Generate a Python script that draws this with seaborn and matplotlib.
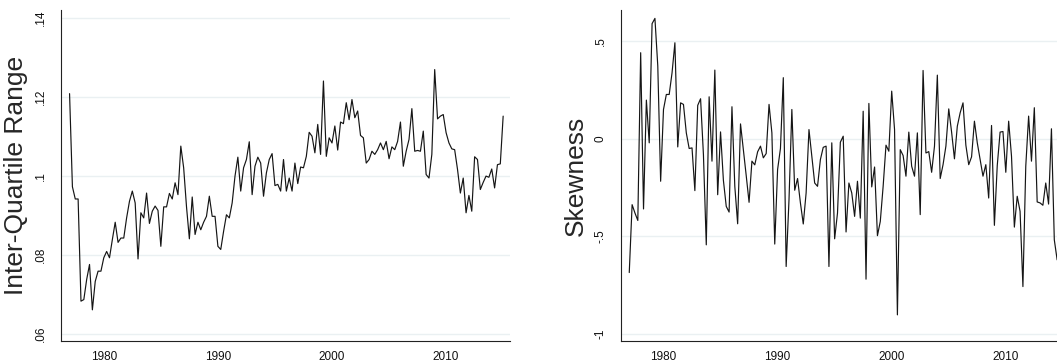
import numpy as np
import pandas as pd
import matplotlib
matplotlib.use("Agg")
import matplotlib.pyplot as plt
import seaborn as sns

# ---- data (quarterly, starting 1977q1) ----
start_year = 1977.0
iqr = [0.1208, 0.0972, 0.0941, 0.0941, 0.0682, 0.0686, 0.0737, 0.0775, 0.0660, 0.0732,
       0.0758, 0.0758, 0.0792, 0.0808, 0.0792, 0.0838, 0.0882, 0.0831, 0.0842, 0.0842,
       0.0893, 0.0935, 0.0961, 0.0931, 0.0789, 0.0906, 0.0893, 0.0956, 0.0879, 0.0910,
       0.0923, 0.0912, 0.0821, 0.0921, 0.0921, 0.0955, 0.0941, 0.0982, 0.0952, 0.1075,
       0.1020, 0.0921, 0.0840, 0.0946, 0.0851, 0.0882, 0.0863, 0.0882, 0.0897, 0.0948,
       0.0897, 0.0897, 0.0821, 0.0813, 0.0859, 0.0901, 0.0893, 0.0931, 0.0999, 0.1047,
       0.0961, 0.1020, 0.1041, 0.1086, 0.0952, 0.1024, 0.1047, 0.1032, 0.0948, 0.1007,
       0.1041, 0.1056, 0.0975, 0.0978, 0.0961, 0.1041, 0.0961, 0.0994, 0.0961, 0.1032,
       0.0980, 0.1022, 0.1020, 0.1049, 0.1110, 0.1100, 0.1058, 0.1130, 0.1054, 0.1240,
       0.1049, 0.1096, 0.1083, 0.1126, 0.1065, 0.1136, 0.1132, 0.1185, 0.1142, 0.1193,
       0.1147, 0.1164, 0.1102, 0.1096, 0.1032, 0.1041, 0.1062, 0.1054, 0.1066, 0.1083,
       0.1066, 0.1087, 0.1043, 0.1073, 0.1066, 0.1087, 0.1136, 0.1024, 0.1062, 0.1092,
       0.1170, 0.1062, 0.1064, 0.1062, 0.1113, 0.1003, 0.0994, 0.1054, 0.1269, 0.1144,
       0.1151, 0.1155, 0.1109, 0.1083, 0.1068, 0.1066, 0.1016, 0.0956, 0.0994, 0.0906,
       0.0950, 0.0910, 0.1048, 0.1041, 0.0965, 0.0983, 0.0999, 0.0996, 0.1017, 0.0969,
       0.1028, 0.1030, 0.1151]

skew = [-0.687, -0.339, -0.382, -0.420, 0.440, -0.361, 0.197, -0.022, 0.589, 0.616,
        0.372, -0.219, 0.149, 0.226, 0.226, 0.337, 0.491, -0.043, 0.183, 0.175,
        0.029, -0.051, -0.048, -0.267, 0.170, 0.204, -0.082, -0.545, 0.214, -0.116,
        0.351, -0.288, 0.034, -0.214, -0.348, -0.377, 0.163, -0.245, -0.437, 0.075,
        -0.057, -0.190, -0.327, -0.116, -0.135, -0.068, -0.039, -0.099, -0.077, 0.175,
        0.029, -0.541, -0.159, -0.051, 0.312, -0.656, -0.313, 0.149, -0.265, -0.205,
        -0.330, -0.438, -0.279, 0.046, -0.091, -0.228, -0.245, -0.108, -0.045, -0.039,
        -0.656, -0.022, -0.514, -0.382, -0.019, 0.012, -0.479, -0.228, -0.279, -0.399,
        -0.219, -0.408, 0.140, -0.721, 0.180, -0.248, -0.146, -0.498, -0.425, -0.245,
        -0.034, -0.065, 0.243, 0.046, -0.904, -0.057, -0.087, -0.193, 0.033, -0.142,
        -0.193, 0.029, -0.390, 0.349, -0.074, -0.067, -0.173, -0.039, 0.325, -0.205,
        -0.134, -0.039, 0.152, 0.033, -0.104, 0.063, 0.132, 0.183, -0.034, -0.134,
        -0.094, 0.089, -0.022, -0.108, -0.193, -0.134, -0.305, 0.067, -0.445, -0.139,
        0.033, 0.036, -0.173, 0.089, -0.091, -0.454, -0.296, -0.373, -0.759, -0.142,
        0.115, -0.116, 0.158, -0.325, -0.330, -0.342, -0.228, -0.336, 0.050, -0.519,
        -0.622]

x_ticks = [1980, 1990, 2000, 2010]
iqr_ticks = [0.06, 0.08, 0.10, 0.12, 0.14]
iqr_tick_labels = [".06", ".08", ".1", ".12", ".14"]
skew_ticks = [-1.0, -0.5, 0.0, 0.5]
skew_tick_labels = ["-1", "-.5", "0", ".5"]
iqr_title = "Inter-Quartile Range"
skew_title = "Skewness"

df_iqr = pd.DataFrame({"date": start_year + np.arange(len(iqr)) / 4.0, "value": iqr})
df_skew = pd.DataFrame({"date": start_year + np.arange(len(skew)) / 4.0, "value": skew})

# ---- style ----
sns.set_style("white")
plt.rcParams["font.family"] = ["Liberation Sans", "DejaVu Sans"]

W, H = 1057, 362
fig = plt.figure(figsize=(W / 100, H / 100), dpi=100)
ax_w = 449 / W
ax_b = (H - 341) / H
ax_h = 331 / H
ax1 = fig.add_axes([61 / W, ax_b, ax_w, ax_h])
ax2 = fig.add_axes([620.7 / W, ax_b, ax_w, ax_h])

grid_col = "#eaf0f2"
for ax, df, yt, ytl, title, ylim in [
    (ax1, df_iqr, iqr_ticks, iqr_tick_labels, iqr_title, (0.0581, 0.142)),
    (ax2, df_skew, skew_ticks, skew_tick_labels, skew_title, (-1.038, 0.659)),
]:
    for v in yt:
        ax.axhline(v, color=grid_col, lw=1.0, zorder=0)
    sns.lineplot(data=df, x="date", y="value", ax=ax, color="#151515", lw=0.85)
    ax.set_xlim(1976.25, 2015.6)
    ax.set_ylim(*ylim)
    ax.set_xticks(x_ticks)
    ax.set_xticklabels([str(t) for t in x_ticks], fontsize=8.5)
    ax.set_yticks(yt)
    ax.set_yticklabels(ytl, rotation=90, va="center", fontsize=8.5)
    ax.set_xlabel("")
    ax.set_ylabel(title, fontsize=19, labelpad=5)
    for s in ["top", "right"]:
        ax.spines[s].set_visible(False)
    for s in ["left", "bottom"]:
        ax.spines[s].set_color("#222222")
        ax.spines[s].set_linewidth(0.8)
    ax.tick_params(axis="both", direction="out", length=3, width=0.8,
                   color="#222222", labelcolor="#111111")
    ax.tick_params(axis="y", pad=7)
    ax.tick_params(axis="x", pad=4)
    ax.grid(False)

fig.savefig("out.png", dpi=100, facecolor="white")
